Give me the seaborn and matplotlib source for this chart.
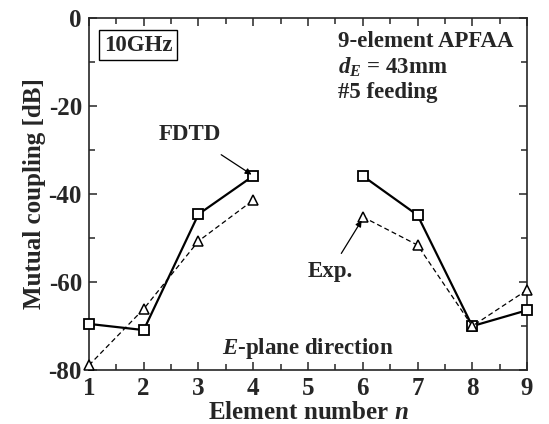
import matplotlib
matplotlib.use("Agg")
import matplotlib.pyplot as plt
import seaborn as sns
import pandas as pd
import numpy as np
from matplotlib.ticker import MultipleLocator

n_fdtd = [1, 2, 3, 4, 6, 7, 8, 9]
fdtd = [-69.5, -70.9, -44.6, -35.9, -35.9, -44.8, -70.0, -66.4]
n_exp = [1, 2, 3, 4, 6, 7, 8, 9]
exp_ = [-78.9, -66.1, -50.7, -41.4, -45.2, -51.6, -70.0, -61.8]

sns.set_style("ticks")
plt.rcParams['font.family'] = ['Liberation Serif', 'DejaVu Serif']
plt.rcParams['font.weight'] = 'bold'
plt.rcParams['axes.unicode_minus'] = False
plt.rcParams['mathtext.fontset'] = 'custom'
plt.rcParams['mathtext.rm'] = 'Liberation Serif:bold'
plt.rcParams['mathtext.it'] = 'Liberation Serif:bold:italic'
plt.rcParams['mathtext.bf'] = 'Liberation Serif:bold'

fig = plt.figure(figsize=(5.49, 4.24), dpi=100)
ax = fig.add_axes([0.162, 0.127, 0.798, 0.831])

def seg(nlist, vals):
    left = pd.DataFrame({"n": [a for a in nlist if a < 5], "v": [v for a, v in zip(nlist, vals) if a < 5]})
    right = pd.DataFrame({"n": [a for a in nlist if a > 5], "v": [v for a, v in zip(nlist, vals) if a > 5]})
    return left, right

for df in seg(n_fdtd, fdtd):
    sns.lineplot(data=df, x="n", y="v", ax=ax, color="black", lw=1.6, marker="s",
                 markersize=6.5, markerfacecolor="white", markeredgecolor="black",
                 markeredgewidth=1.3, zorder=3, clip_on=False)
for df in seg(n_exp, exp_):
    sns.lineplot(data=df, x="n", y="v", ax=ax, color="black", lw=0.9, ls=(0, (4, 2.5)), marker="^",
                 markersize=7, markerfacecolor="white", markeredgecolor="black",
                 markeredgewidth=1.1, zorder=3, clip_on=False)

ax.set_xlim(1, 9)
ax.set_ylim(-80, 0)
ax.xaxis.set_major_locator(MultipleLocator(1))
ax.xaxis.set_minor_locator(MultipleLocator(0.5))
ax.yaxis.set_major_locator(MultipleLocator(20))
ax.yaxis.set_minor_locator(MultipleLocator(10))
ax.tick_params(which='both', direction='in', top=True, right=True, labelsize=18, width=1.1)
ax.tick_params(which='major', length=6)
ax.tick_params(axis='x', which='major', pad=5)
ax.tick_params(axis='y', which='major', pad=5)
ax.tick_params(which='minor', length=4)
for s in ax.spines.values():
    s.set_linewidth(1.2)
ax.set_xlabel("Element number $\\mathit{n}$", fontsize=18, fontweight='bold', labelpad=1)
ax.set_ylabel("Mutual coupling [dB]", fontsize=18, fontweight='bold', labelpad=2)
for lab in ax.get_xticklabels() + ax.get_yticklabels():
    lab.set_fontweight('bold')

ax.text(1.27, -3.8, "10GHz", fontsize=16.5, fontweight='bold', va='top', ha='left',
        bbox=dict(boxstyle='square,pad=0.2', fc='white', ec='black', lw=1.0))
ax.text(5.55, -3.0, "9-element APFAA\n$\\mathit{d}_{\\mathit{E}}$ = 43mm\n#5 feeding", fontsize=16.5,
        fontweight='bold', va='top', ha='left', linespacing=1.2)
ax.annotate("FDTD", xy=(3.97, -35.6), xytext=(2.84, -26.4), fontsize=16.5, fontweight='bold',
            ha='center', va='center',
            arrowprops=dict(arrowstyle='-|>', color='black', lw=0.9, shrinkA=9, shrinkB=0,
                            mutation_scale=9))
ax.annotate("Exp.", xy=(5.98, -46.0), xytext=(5.4, -57.7), fontsize=16.5, fontweight='bold',
            ha='center', va='center',
            arrowprops=dict(arrowstyle='-|>', color='black', lw=0.9, shrinkA=4, shrinkB=0,
                            mutation_scale=9))
ax.text(5.0, -75.0, "$\\mathit{E}$-plane direction", fontsize=16.5, fontweight='bold',
        ha='center', va='center')

fig.savefig("out.png", dpi=100)
